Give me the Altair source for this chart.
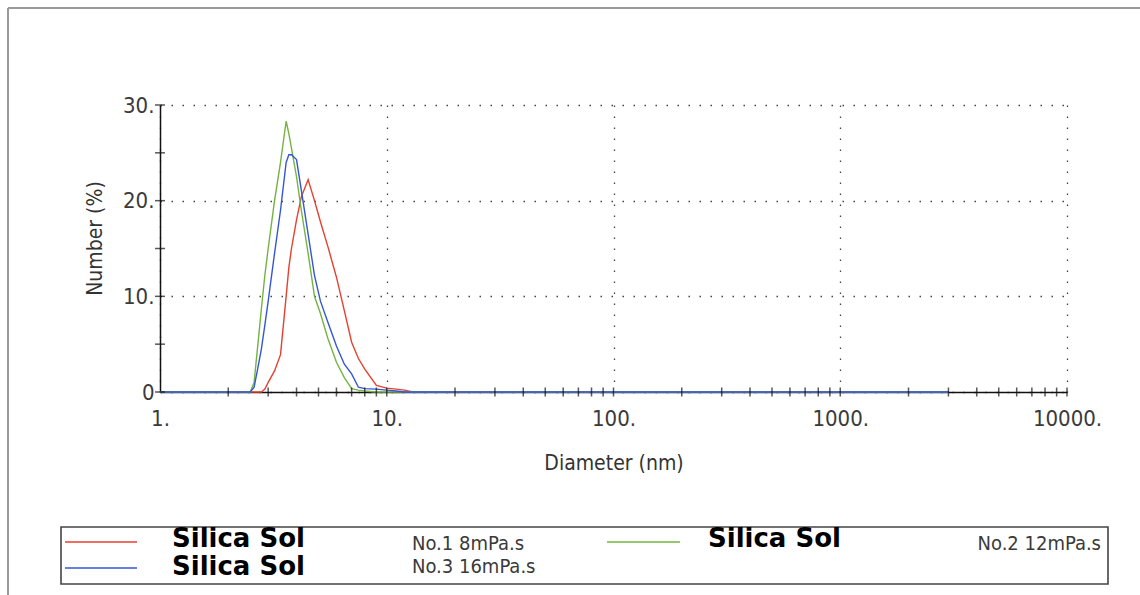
import altair as alt
import pandas as pd

# ---- data ----
diameters = [1, 2.5, 2.6, 2.7, 2.8, 2.9, 3.0, 3.2, 3.4, 3.6, 3.7, 3.8, 4.0, 4.2, 4.5,
             4.8, 5.1, 5.5, 6.0, 6.5, 7.0, 7.5, 8.0, 9.0, 10, 11, 12, 13, 3000]
no1_8mpas = [0, 0, 0, 0, 0, 0.3, 1.0, 2.2, 3.9, 10, 13, 15, 18, 20.4, 22.2,
             20, 17.8, 15.2, 12, 8.5, 5.2, 3.5, 2.4, 0.7, 0.4, 0.3, 0.2, 0, 0]
no2_12mpas = [0, 0, 1, 4.9, 8.7, 12.2, 15, 20, 24, 28.3, 27, 25.5, 22.5, 19, 14.5,
              10, 8.2, 5.6, 3.1, 1.5, 0.35, 0.2, 0.1, 0, 0, 0, 0, 0, 0]
no3_16mpas = [0, 0, 0.5, 2.5, 4.5, 7, 9.5, 14.5, 19, 24, 24.8, 24.8, 24.3, 21.1, 16.5,
              12.2, 9.5, 7.3, 4.8, 2.9, 1.9, 0.5, 0.35, 0.3, 0.2, 0.1, 0, 0, 0]

series_names = ["No.1 8mPa.s", "No.2 12mPa.s", "No.3 16mPa.s"]
series_colors = ["#e5412f", "#74b340", "#3456d6"]
x_label_values = [1, 10, 100, 1000, 10000]
y_label_values = [0, 10, 20, 30]
y_tick_values = [0, 5, 10, 15, 20, 25, 30]
x_tick_values = [2, 3, 4, 5, 6, 7, 8, 9, 10,
                 20, 30, 40, 50, 60, 70, 80, 90, 100,
                 200, 300, 400, 500, 600, 700, 800, 900, 1000,
                 2000, 3000, 4000, 5000, 6000, 7000, 8000, 9000, 10000]

rows = []
for name, vals in zip(series_names, [no1_8mpas, no2_12mpas, no3_16mpas]):
    for d, v in zip(diameters, vals):
        rows.append({"d": d, "v": v, "s": name})
df = pd.DataFrame(rows)

FONT = "Liberation Sans Narrow, DejaVu Sans Condensed, Liberation Sans, sans-serif"
W, H = 907, 287

xscale = alt.Scale(type="log", domain=[1, 10000])
yscale = alt.Scale(domain=[0, 30], nice=False)

x_axis = alt.Axis(values=x_label_values, labelExpr="datum.value + '.'", ticks=False,
                  tickSize=0, grid=True, gridDash=[1.5, 9.5], gridColor="#444",
                  gridWidth=1.3, domainColor="#111", domainWidth=1.5,
                  labelFont=FONT, labelFontSize=22, labelColor="#3a3a3a",
                  labelPadding=16, labelFlush=False, labelOverlap=False,
                  title="Diameter (nm)", titleFont=FONT, titleFontSize=21,
                  titleFontWeight="normal", titleColor="#333", titleY=71,
                  titleBaseline="middle")
y_axis = alt.Axis(values=y_label_values,
                  labelExpr="datum.value == 0 ? '0' : datum.value + '.'",
                  ticks=False, tickSize=0, grid=True, gridDash=[1.5, 9.5],
                  gridColor="#444", gridWidth=1.3, domainColor="#111", domainWidth=1.5,
                  labelFont=FONT, labelFontSize=22, labelColor="#3a3a3a",
                  labelPadding=6, labelFlush=False, labelOverlap=False,
                  title="Number (%)", titleFont=FONT, titleFontSize=21,
                  titleFontWeight="normal", titleColor="#333", titleX=-65, titleY=133,
                  titleAngle=270, titleBaseline="middle", titleAlign="center")

lines = alt.Chart(df).mark_line(strokeWidth=1.4, interpolate="linear").encode(
    x=alt.X("d:Q", scale=xscale, axis=x_axis),
    y=alt.Y("v:Q", scale=yscale, axis=y_axis),
    color=alt.Color("s:N", scale=alt.Scale(domain=series_names, range=series_colors),
                    legend=None),
    order=alt.Order("d:Q"),
)

yticks = alt.Chart(pd.DataFrame({"v": y_tick_values})).mark_tick(
    orient="horizontal", size=10, thickness=1.5, color="#111").encode(
    y=alt.Y("v:Q", scale=yscale), x=alt.value(0))
xticks = alt.Chart(pd.DataFrame({"d": x_tick_values})).mark_tick(
    orient="vertical", size=9, thickness=1.5, color="#111").encode(
    x=alt.X("d:Q", scale=xscale), y=alt.value(H))

one = alt.Data(values=[{"a": 1}])

def rule(x1, x2, y1, y2, color, width):
    return alt.Chart(one).mark_rule(color=color, strokeWidth=width).encode(
        x=alt.value(x1), x2=alt.value(x2), y=alt.value(y1), y2=alt.value(y2))

def text(label, x, y, size, weight, color, font, align="left"):
    return alt.Chart(one).mark_text(text=label, fontSize=size, fontWeight=weight,
                                    color=color, font=font, align=align,
                                    baseline="middle").encode(
        x=alt.value(x), y=alt.value(y))

# outer frame (top and left edges)
frame = rule(-152, 990, -97, -97, "#9a9a9a", 2) + rule(-152, -152, -97, 500, "#9a9a9a", 2)

# legend box
legend_box = alt.Chart(one).mark_rect(fill="white", stroke="#444", strokeWidth=1.6).encode(
    x=alt.value(-99), x2=alt.value(948), y=alt.value(422), y2=alt.value(479))

BOLD = "DejaVu Sans, Liberation Sans, sans-serif"
legend = (
    legend_box
    + rule(-95, -23, 437, 437, series_colors[0], 1.6)
    + rule(-95, -23, 463, 463, series_colors[2], 1.6)
    + rule(447, 520, 437, 437, series_colors[1], 1.6)
    + text("Silica Sol", 12, 434, 26, "bold", "black", BOLD)
    + text("Silica Sol", 12, 462, 26, "bold", "black", BOLD)
    + text("Silica Sol", 548, 434, 26, "bold", "black", BOLD)
    + text(series_names[0], 252, 439, 20, "normal", "#3a3a3a", FONT)
    + text(series_names[2], 252, 462, 20, "normal", "#3a3a3a", FONT)
    + text(series_names[1], 941, 439, 20, "normal", "#3a3a3a", FONT, align="right")
)

chart = alt.layer(frame, lines, yticks, xticks, legend).properties(
    width=W, height=H,
    padding={"left": 160, "top": 105, "right": 73, "bottom": 203},
    autosize=alt.AutoSizeParams(type="none"),
    background="white",
).configure_view(stroke="transparent")

chart.save("out.html", embed_options={"renderer": "svg", "actions": False})
